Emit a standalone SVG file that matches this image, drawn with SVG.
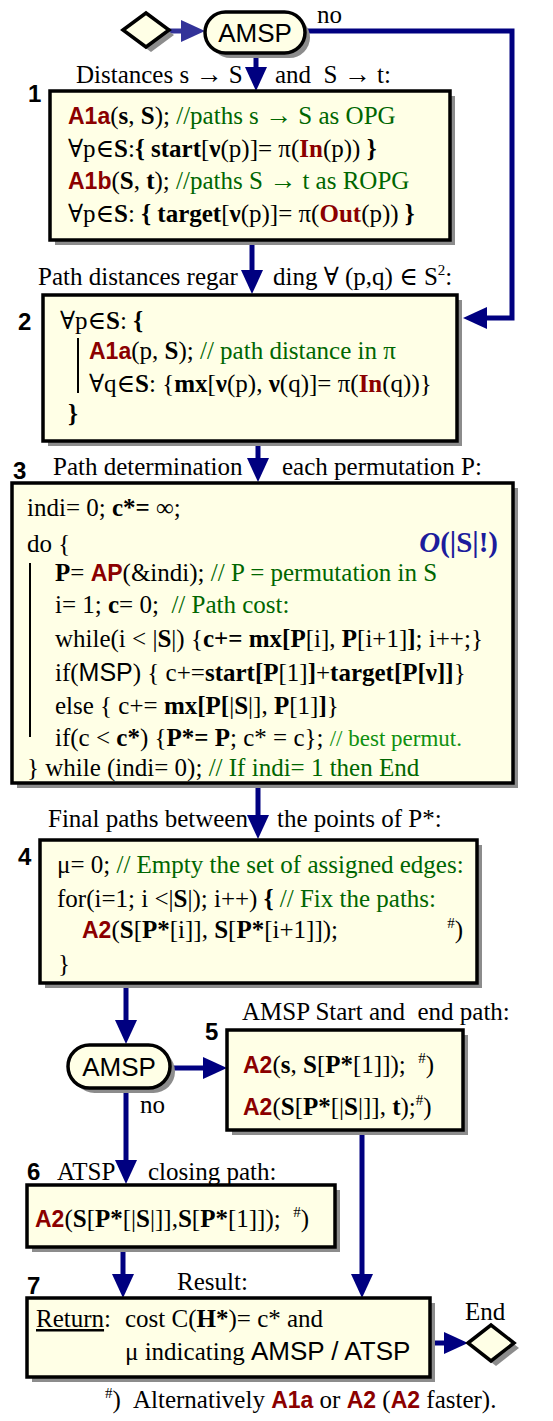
<svg xmlns="http://www.w3.org/2000/svg" width="553" height="1421" viewBox="0 0 553 1421">
<defs>
<marker id="ah" markerUnits="userSpaceOnUse" markerWidth="24" markerHeight="22" viewBox="0 0 24 22" refX="12" refY="11" orient="auto"><path d="M0,0 L24,11 L0,22 Z" fill="#000080"/></marker>
<marker id="ah2" markerUnits="userSpaceOnUse" markerWidth="24" markerHeight="22" viewBox="0 0 24 22" refX="12" refY="11" orient="auto"><path d="M0,0 L24,11 L0,22 Z" fill="#333399"/></marker>
</defs>
<style>
.sh{fill:#8c8c8c}
.bx{fill:#ffffe6;stroke:#000;stroke-width:3.5}
.t{font-family:"Liberation Serif","Times New Roman","DejaVu Serif",serif;font-size:25px;fill:#000;white-space:pre}
.a{font-family:"Liberation Sans",Arial,sans-serif;font-weight:bold;fill:#8b0000;font-size:23px}
.b{font-weight:bold}
.g{fill:#006600}
.g2{fill:#109010;font-size:23px}
.r{fill:#8b0000;font-weight:bold}
.n{font-family:"Liberation Sans",Arial,sans-serif;font-weight:bold;font-size:24px;fill:#000}
.s{font-family:"Liberation Sans",Arial,sans-serif}
.ar{font-size:27px}
.term{font-family:"Liberation Sans",Arial,sans-serif;font-size:26px;fill:#000}
.c{fill:none;stroke:#000080;stroke-width:5}
.bar{stroke:#000;stroke-width:2}
</style>

<g id="connectors">
<path class="c" d="M169,31 H193" style="stroke:#333399" marker-end="url(#ah2)"/>
<path class="c" d="M305,31 H512 V318 H475" marker-end="url(#ah)"/>
<path class="c" d="M256,53 V79" marker-end="url(#ah)"/>
<path class="c" d="M252,241 V282" marker-end="url(#ah)"/>
<path class="c" d="M258,443 V470" marker-end="url(#ah)"/>
<path class="c" d="M258,785 V827" marker-end="url(#ah)"/>
<path class="c" d="M126,985 V1032" marker-end="url(#ah)"/>
<path class="c" d="M170,1068 H215" marker-end="url(#ah)"/>
<path class="c" d="M126,1088 V1172" marker-end="url(#ah)"/>
<path class="c" d="M362,1131 V1286" marker-end="url(#ah)"/>
<path class="c" d="M123,1248 V1286" marker-end="url(#ah)"/>
<path class="c" d="M431,1343 H456" marker-end="url(#ah)"/>
</g>

<g id="labels">
<text class="t" x="317" y="23">no</text>
<text class="t" x="76" y="83">Distances s <tspan class="ar">→</tspan> S</text>
<text class="t" x="275" y="83">and  S <tspan class="ar">→</tspan> t:</text>
<text class="t" x="38" y="285">Path distances regar</text>
<text class="t" x="273" y="285">ding ∀ (p,q) ∈ S<tspan font-size="15" dy="-10">2</tspan><tspan dy="10">:</tspan></text>
<text class="t" x="53" y="475">Path determination</text>
<text class="t" x="282" y="475">each permutation P:</text>
<text class="t" x="48" y="827">Final paths between</text>
<text class="t" x="277" y="827">the points of P*:</text>
<text class="t" x="242" y="1020">AMSP Start and  end path:</text>
<text class="t" x="140" y="1113">no</text>
<text class="t" x="57" y="1180">ATSP</text>
<text class="t" x="148" y="1180">closing path:</text>
<text class="t" x="177" y="1290">Result:</text>
<text class="t" x="465" y="1320">End</text>
</g>

<g id="start">
<polygon class="sh" points="128,35 151,18 174,35 151,52"/>
<polygon class="bx" points="123,30 146,13 169,30 146,47"/>
</g>

<g id="amsp1">
<rect class="sh" x="210" y="17" width="100" height="41" rx="20.5"/>
<rect class="bx" x="205" y="12" width="100" height="41" rx="20.5"/>
<text class="term" x="255" y="42" text-anchor="middle">AMSP</text>
</g>

<g id="box1">
<text class="n" x="28" y="102">1</text>
<rect class="sh" x="55" y="96" width="400" height="149"/>
<rect class="bx" x="50" y="91" width="400" height="149"/>
<text class="t" x="68" y="124"><tspan class="a">A1a</tspan>(<tspan class="b">s</tspan>, <tspan class="b">S</tspan>); <tspan class="g">//paths s <tspan class="ar">→</tspan> S as OPG</tspan></text>
<text class="t" x="68" y="157">∀p∈<tspan class="b">S</tspan>:<tspan class="b">{ start</tspan>[<tspan class="b">ν</tspan>(p)]= π(<tspan class="r">In</tspan>(p)) <tspan class="b">}</tspan></text>
<text class="t" x="68" y="189"><tspan class="a">A1b</tspan>(<tspan class="b">S</tspan>, <tspan class="b">t</tspan>); <tspan class="g">//paths S <tspan class="ar">→</tspan> t as ROPG</tspan></text>
<text class="t" x="68" y="222">∀p∈<tspan class="b">S</tspan>: <tspan class="b">{ target</tspan>[<tspan class="b">ν</tspan>(p)]= π(<tspan class="r">Out</tspan>(p)) <tspan class="b">}</tspan></text>
</g>

<g id="box2">
<text class="n" x="18" y="330">2</text>
<rect class="sh" x="48" y="300" width="414" height="146"/>
<rect class="bx" x="43" y="295" width="414" height="146"/>
<line class="bar" x1="78" y1="338" x2="78" y2="393"/>
<text class="t" x="60" y="329">∀p∈<tspan class="b">S</tspan>: <tspan class="b">{</tspan></text>
<text class="t" x="89" y="359"><tspan class="a">A1a</tspan>(p, <tspan class="b">S</tspan>); <tspan class="g">// path distance in π</tspan></text>
<text class="t" x="89" y="392">∀q∈<tspan class="b">S</tspan>: {<tspan class="b">mx</tspan>[<tspan class="b">ν</tspan>(p), <tspan class="b">ν</tspan>(q)]= π(<tspan class="r">In</tspan>(q))}</text>
<text class="t b" x="68" y="422">}</text>
</g>

<g id="box3">
<text class="n" x="13" y="479">3</text>
<rect class="sh" x="17" y="488" width="501" height="300"/>
<rect class="bx" x="12" y="483" width="501" height="300"/>
<line class="bar" x1="30" y1="563" x2="30" y2="737"/>
<text class="t" x="27" y="516">indi= 0; <tspan class="b">c*=</tspan> ∞;</text>
<text class="t" x="27" y="552">do {</text>
<text class="t" x="498" y="552" text-anchor="end" style="font-size:29px;font-weight:bold;fill:#1c1c9c"><tspan font-style="italic">O</tspan>(|S|!)</text>
<text class="t" x="55" y="581"><tspan class="b">P</tspan>= <tspan class="a">AP</tspan>(&amp;indi); <tspan class="g">// P = permutation in S</tspan></text>
<text class="t" x="55" y="613">i= 1; <tspan class="b">c</tspan>= 0;  <tspan class="g">// Path cost:</tspan></text>
<text class="t" x="55" y="647">while(i &lt; |<tspan class="b">S</tspan>|) {<tspan class="b">c+= mx[P</tspan>[i], <tspan class="b">P</tspan>[i+1]<tspan class="b">]</tspan>; i++;}</text>
<text class="t" x="55" y="681">if(<tspan class="s">MSP</tspan>) { c+=<tspan class="b">start[P</tspan>[1]<tspan class="b">]</tspan>+<tspan class="b">target[P[ν]]</tspan>}</text>
<text class="t" x="55" y="714">else { c+= <tspan class="b">mx[P[</tspan>|<tspan class="b">S</tspan>|], <tspan class="b">P</tspan>[1]<tspan class="b">]</tspan>}</text>
<text class="t" x="55" y="746">if(c &lt; <tspan class="b">c*</tspan>) {<tspan class="b">P*= P</tspan>; c* = c}; <tspan class="g2">// best permut.</tspan></text>
<text class="t" x="27" y="776">} while (indi= 0); <tspan class="g">// If indi= 1 then End</tspan></text>
</g>

<g id="box4">
<text class="n" x="18" y="865">4</text>
<rect class="sh" x="45" y="845" width="437" height="143"/>
<rect class="bx" x="40" y="840" width="437" height="143"/>
<text class="t" x="57" y="873">μ= 0; <tspan class="g">// Empty the set of assigned edges:</tspan></text>
<text class="t" x="57" y="907">for(i=1; i &lt;|<tspan class="b">S</tspan>|); i++) <tspan class="b">{</tspan> <tspan class="g">// Fix the paths:</tspan></text>
<text class="t" x="82" y="938"><tspan class="a">A2</tspan>(<tspan class="b">S</tspan>[<tspan class="b">P*</tspan>[i]], <tspan class="b">S</tspan>[<tspan class="b">P*</tspan>[i+1]]);</text>
<text class="t" x="463" y="938" text-anchor="end"><tspan font-size="15" dy="-10">#</tspan><tspan dy="10">)</tspan></text>
<text class="t" x="58" y="972">}</text>
</g>

<g id="amsp2">
<rect class="sh" x="73" y="1050" width="102" height="43" rx="21.5"/>
<rect class="bx" x="68" y="1045" width="102" height="43" rx="21.5"/>
<text class="term" x="119" y="1076" text-anchor="middle">AMSP</text>
</g>

<g id="box5">
<text class="n" x="205" y="1040">5</text>
<rect class="sh" x="232" y="1035" width="236" height="100"/>
<rect class="bx" x="227" y="1030" width="236" height="100"/>
<text class="t" x="243" y="1073"><tspan class="a">A2</tspan>(<tspan class="b">s</tspan>, <tspan class="b">S</tspan>[<tspan class="b">P*</tspan>[1]]);  <tspan font-size="15" dy="-10">#</tspan><tspan dy="10">)</tspan></text>
<text class="t" x="243" y="1115"><tspan class="a">A2</tspan>(<tspan class="b">S</tspan>[<tspan class="b">P*</tspan>[|<tspan class="b">S</tspan>|]], <tspan class="b">t</tspan>);<tspan font-size="15" dy="-10">#</tspan><tspan dy="10">)</tspan></text>
</g>

<g id="box6">
<text class="n" x="27" y="1180">6</text>
<rect class="sh" x="32" y="1190" width="308" height="62"/>
<rect class="bx" x="27" y="1185" width="308" height="62"/>
<text class="t" x="35" y="1227"><tspan class="a">A2</tspan>(<tspan class="b">S</tspan>[<tspan class="b">P*</tspan>[|<tspan class="b">S</tspan>|]],<tspan class="b">S</tspan>[<tspan class="b">P*</tspan>[1]]);  <tspan font-size="15" dy="-10">#</tspan><tspan dy="10">)</tspan></text>
</g>

<g id="box7">
<text class="n" x="27" y="1294">7</text>
<rect class="sh" x="32" y="1303" width="403" height="79"/>
<rect class="bx" x="27" y="1298" width="403" height="79"/>
<text class="t" x="36" y="1327"><tspan text-decoration="underline">Return</tspan>:</text>
<text class="t" x="125" y="1327">cost C(<tspan class="b">H*</tspan>)= c* and</text>
<text class="t" x="125" y="1360">μ indicating <tspan class="s" font-size="26">AMSP / ATSP</tspan></text>
</g>

<g id="end">
<polygon class="sh" points="473,1348 496,1330 519,1348 496,1366"/>
<polygon class="bx" points="468,1343 491,1325 514,1343 491,1361"/>
</g>

<g id="footnote">
<text class="t" x="105" y="1408"><tspan font-size="15" dy="-10">#</tspan><tspan dy="10">)</tspan></text>
<text class="t" x="133" y="1408">Alternatively <tspan class="a">A1a</tspan> or <tspan class="a">A2</tspan> (<tspan class="a">A2</tspan> faster).</text>
</g>
</svg>
